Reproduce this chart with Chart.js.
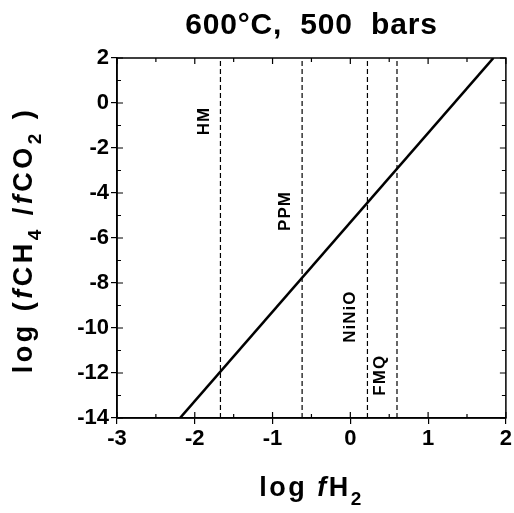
<!DOCTYPE html>
<html>
<head>
<meta charset="utf-8">
<script src="https://cdn.jsdelivr.net/npm/chart.js@4"></script>
<style>
  html, body { margin: 0; padding: 0; background: #fff; }
  #wrap { width: 514px; height: 513px; }
</style>
</head>
<body>
<div id="wrap"><canvas id="chart"></canvas></div>
<script>
// main reaction line, log fCH4/fCO2 vs log fH2
var lineX = [-2.19, 1.84];
var lineY = [-14, 2];

// oxygen buffers (vertical dashed lines)
var bufferNames = ['HM', 'PPM', 'NiNiO', 'FMQ'];
var bufferX = [-1.67, -0.62, 0.22, 0.6];
var labelX = [-1.88, -0.84, 0.0, 0.39];
var labelY = [-0.8, -4.8, -9.5, -12.1];

var xTicks = [-3, -2, -1, 0, 1, 2];
var yTicks = [2, 0, -2, -4, -6, -8, -10, -12, -14];
var xMinor = [-2.5, -1.5, -0.5, 0.5, 1.5];
var yMinor = [1, -1, -3, -5, -7, -9, -11, -13];

var FONT = '"Liberation Sans", Arial, Helvetica, sans-serif';

var datasets = [{
    data: lineX.map(function (x, i) { return { x: x, y: lineY[i] }; }),
    borderColor: '#000',
    borderWidth: 2.6,
    pointRadius: 0
}];
bufferX.forEach(function (bx) {
    datasets.push({
        data: [{ x: bx, y: -14 }, { x: bx, y: 2 }],
        borderColor: '#000',
        borderWidth: 1.2,
        borderDash: [5, 3],
        pointRadius: 0
    });
});

// draws a run of text pieces with mixed styles, centred on (cx, cy)
function drawRich(ctx, parts, cx, cy, angle, spacing) {
    ctx.save();
    ctx.translate(cx, cy);
    ctx.rotate(angle);
    ctx.letterSpacing = (spacing || 0) + 'px';
    var total = 0;
    parts.forEach(function (p) {
        ctx.font = p.font;
        total += ctx.measureText(p.text).width;
    });
    var x = -total / 2;
    ctx.textBaseline = 'middle';
    ctx.textAlign = 'left';
    ctx.fillStyle = '#000';
    parts.forEach(function (p) {
        ctx.font = p.font;
        ctx.fillText(p.text, x, p.dy || 0);
        x += ctx.measureText(p.text).width;
    });
    ctx.restore();
}

var extras = {
    id: 'extras',
    afterDraw: function (chart) {
        var ctx = chart.ctx;
        var xs = chart.scales.x, ys = chart.scales.y;
        var a = chart.chartArea;

        // frame
        ctx.save();
        ctx.strokeStyle = '#000';
        ctx.lineWidth = 1.5;
        ctx.strokeRect(a.left, a.top, a.right - a.left, a.bottom - a.top);

        // inward ticks on all sides
        ctx.lineWidth = 1.2;
        ctx.beginPath();
        xTicks.concat(xMinor).forEach(function (v) {
            var px = xs.getPixelForValue(v);
            var len = xTicks.indexOf(v) >= 0 ? 6 : 4;
            ctx.moveTo(px, a.top); ctx.lineTo(px, a.top + len);
            ctx.moveTo(px, a.bottom); ctx.lineTo(px, a.bottom - len);
        });
        yTicks.concat(yMinor).forEach(function (v) {
            var py = ys.getPixelForValue(v);
            var len = yTicks.indexOf(v) >= 0 ? 6 : 4;
            ctx.moveTo(a.left, py); ctx.lineTo(a.left + len, py);
            ctx.moveTo(a.right, py); ctx.lineTo(a.right - len, py);
        });
        ctx.stroke();
        ctx.restore();

        // buffer labels, rotated
        bufferNames.forEach(function (name, i) {
            drawRich(ctx, [{ text: name, font: 'bold 17px ' + FONT }],
                xs.getPixelForValue(labelX[i]), ys.getPixelForValue(labelY[i]), -Math.PI / 2, 1);
        });

        // title
        var cx = (a.left + a.right) / 2;
        drawRich(ctx, [{ text: '600\u00b0C,  500  bars', font: 'bold 30px ' + FONT }], cx, 26, 0, 0.8);

        // x axis title
        var big = 'bold 27px ' + FONT, it = 'italic bold 27px ' + FONT, sub = 'bold 19px ' + FONT;
        drawRich(ctx, [
            { text: 'log ', font: big },
            { text: 'f', font: it },
            { text: 'H', font: big },
            { text: '2', font: sub, dy: 11 }
        ], cx, 489, 0, 2.5);

        // y axis title
        drawRich(ctx, [
            { text: 'log (', font: big },
            { text: 'f', font: it },
            { text: 'CH', font: big },
            { text: '4', font: sub, dy: 11 },
            { text: ' /', font: big },
            { text: 'f', font: it },
            { text: 'CO', font: big },
            { text: '2', font: sub, dy: 11 },
            { text: ' )', font: big }
        ], 25, 240, -Math.PI / 2, 3.5);
    }
};

new Chart(document.getElementById('chart'), {
    type: 'line',
    data: { datasets: datasets },
    options: {
        responsive: true,
        maintainAspectRatio: false,
        animation: false,
        layout: { padding: { top: 58, right: 5, left: 0, bottom: 0 } },
        plugins: { legend: { display: false }, tooltip: { enabled: false } },
        scales: {
            x: {
                type: 'linear',
                min: -3, max: 2,
                afterBuildTicks: function (s) { s.ticks = xTicks.map(function (v) { return { value: v }; }); },
                afterFit: function (s) { s.height = 95; },
                grid: { drawOnChartArea: false, tickLength: 6, color: '#000', lineWidth: 1.2 },
                border: { color: '#000', width: 1.5 },
                ticks: {
                    color: '#000', padding: 2,
                    font: { family: FONT, size: 22, weight: 'bold' },
                    callback: function (v) { return String(v); }
                }
            },
            y: {
                type: 'linear',
                min: -14, max: 2,
                afterBuildTicks: function (s) { s.ticks = yTicks.map(function (v) { return { value: v }; }); },
                afterFit: function (s) { s.width = 117; },
                grid: { drawOnChartArea: false, tickLength: 6, color: '#000', lineWidth: 1.2 },
                border: { color: '#000', width: 1.5 },
                ticks: {
                    color: '#000', padding: 2,
                    font: { family: FONT, size: 22, weight: 'bold' },
                    callback: function (v) { return String(v); }
                }
            }
        }
    },
    plugins: [extras]
});
</script>
</body>
</html>
